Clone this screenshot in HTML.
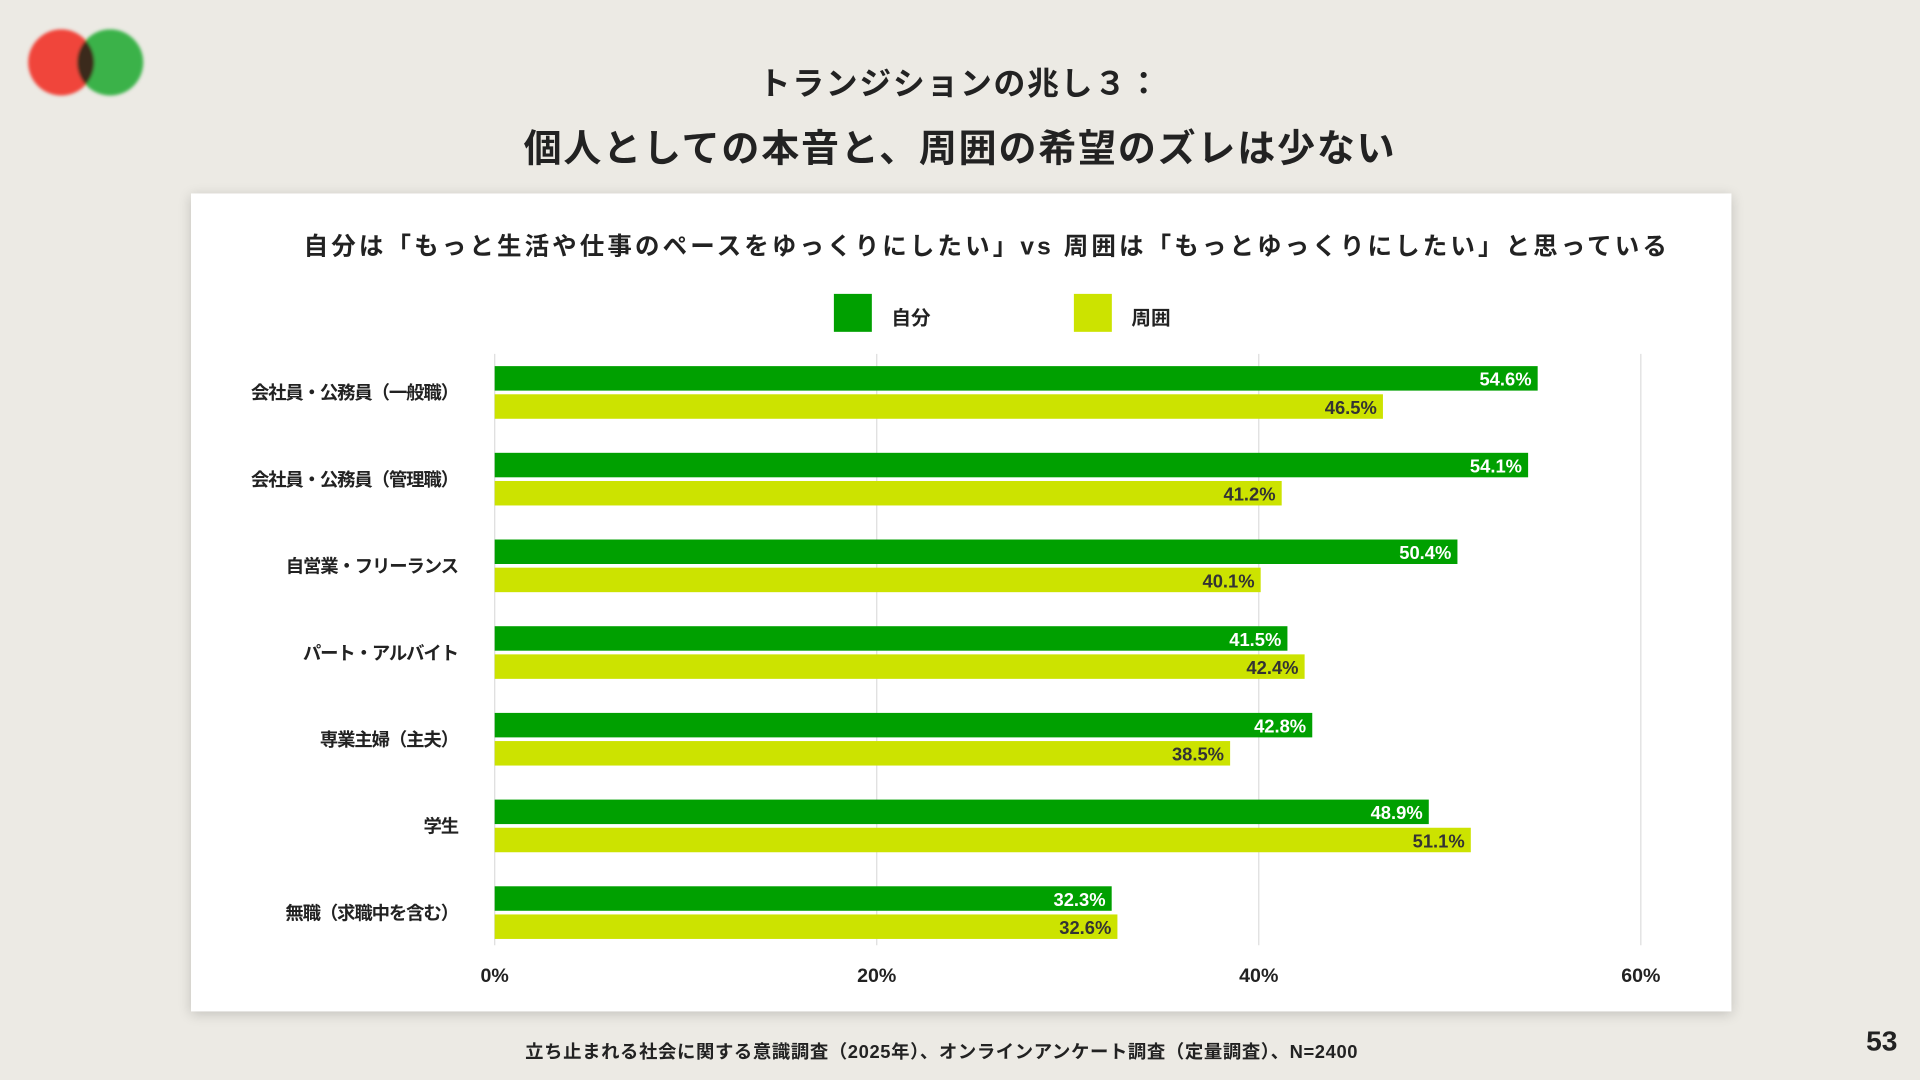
<!DOCTYPE html>
<html><head><meta charset="utf-8"><style>
html,body{margin:0;padding:0;width:1920px;height:1080px;overflow:hidden;background:#ECEAE4}
#wrap{position:absolute;left:0;top:0;width:1568px;height:882px;transform:scale(1.22449);transform-origin:0 0;font-family:"Liberation Sans","Noto Sans CJK JP",sans-serif;color:#222}
.t{position:absolute;white-space:nowrap;font-weight:bold}
</style></head><body>
<div id="wrap">
<svg style="position:absolute;left:0;top:0" width="140" height="100">
<defs><filter id="b"><feGaussianBlur stdDeviation="1.2"/></filter></defs>
<g filter="url(#b)"><circle cx="50" cy="51" r="27" fill="#F0443A"/><circle cx="90" cy="51" r="27" fill="#3BB24A"/>
<clipPath id="c"><circle cx="50" cy="51" r="27"/></clipPath><circle cx="90" cy="51" r="27" fill="#3a2a1a" clip-path="url(#c)"/></g></svg>
<div class="t" style="left:0;width:1568px;text-align:center;top:48px;font-size:26px;letter-spacing:1.4px">トランジションの兆し３：</div>
<div class="t" style="left:0;width:1568px;text-align:center;top:96px;font-size:31px;letter-spacing:1.5px">個人としての本音と、周囲の希望のズレは少ない</div>
<div style="position:absolute;left:156px;top:158px;width:1258px;height:668px;background:#fff;box-shadow:0 2px 10px rgba(0,0,0,0.18)"></div>
<div class="t" style="left:248px;top:185px;font-size:20px;letter-spacing:2.55px">自分は「もっと生活や仕事のペースをゆっくりにしたい」vs 周囲は「もっとゆっくりにしたい」と思っている</div>
<div style="position:absolute;left:681px;top:240px;width:31px;height:31px;background:#00A000"></div>
<div class="t" style="left:728px;top:246px;font-size:16px">自分</div>
<div style="position:absolute;left:877px;top:240px;width:31px;height:31px;background:#CCE300"></div>
<div class="t" style="left:924px;top:246px;font-size:16px">周囲</div>
<svg id="chart" style="position:absolute;left:0;top:0" width="1568" height="882"></svg>
<div class="t" style="left:0;width:1538px;text-align:center;top:848px;font-size:15px;letter-spacing:0.5px">立ち止まれる社会に関する意識調査（2025年）、オンラインアンケート調査（定量調査）、N=2400</div>
<div class="t" style="left:1524px;top:837px;font-size:23px">53</div>
</div>
<script>
const categories=["会社員・公務員（一般職）","会社員・公務員（管理職）","自営業・フリーランス","パート・アルバイト","専業主婦（主夫）","学生","無職（求職中を含む）"];
const selfValues=[54.6,54.1,50.4,41.5,42.8,48.9,32.3];
const othersValues=[46.5,41.2,40.1,42.4,38.5,51.1,32.6];
const tickValues=[0,20,40,60];
const tickLabels=["0%","20%","40%","60%"];
const NS="http://www.w3.org/2000/svg";
const svg=document.getElementById('chart');
const x0=404,xMax=1340,vMax=60,rowTop=289,rowH=70.8;
function xs(v){return x0+(v/vMax)*(xMax-x0);}
function yRow(i){return rowTop+i*rowH;}
function mk(tag,attrs){const e=document.createElementNS(NS,tag);for(const k in attrs)e.setAttribute(k,attrs[k]);svg.appendChild(e);return e;}
tickValues.forEach((v,i)=>{
 const g=mk('line',{x1:xs(v),x2:xs(v),y1:rowTop,y2:772,stroke:'#ddd','stroke-width':1});
 
 
 const t=mk('text',{x:xs(v),y:802,'text-anchor':'middle','font-size':16,'font-weight':'bold',fill:'#222'});
 t.textContent=tickLabels[i];
 
 
});
categories.forEach((c,i)=>{
 const y=yRow(i);
 const l=mk('text',{x:374,y:y+37,'text-anchor':'end','font-size':15,'font-weight':'bold',fill:'#222','letter-spacing':'-0.9'});
 l.textContent=c;
 
 
 const b1=mk('rect',{x:x0,y:y+10,width:xs(selfValues[i])-x0,height:20,fill:'#00A000'});
 
 
 const t1=mk('text',{x:xs(selfValues[i])-5,y:y+26,'text-anchor':'end','font-size':15,'font-weight':'bold',fill:'#fff'});
 t1.textContent=selfValues[i].toFixed(1)+'%';
 
 
 const b2=mk('rect',{x:x0,y:y+33,width:xs(othersValues[i])-x0,height:20,fill:'#CCE300'});
 
 
 const t2=mk('text',{x:xs(othersValues[i])-5,y:y+49,'text-anchor':'end','font-size':15,'font-weight':'bold',fill:'#333'});
 t2.textContent=othersValues[i].toFixed(1)+'%';
 
 
});
</script>
</body></html>
